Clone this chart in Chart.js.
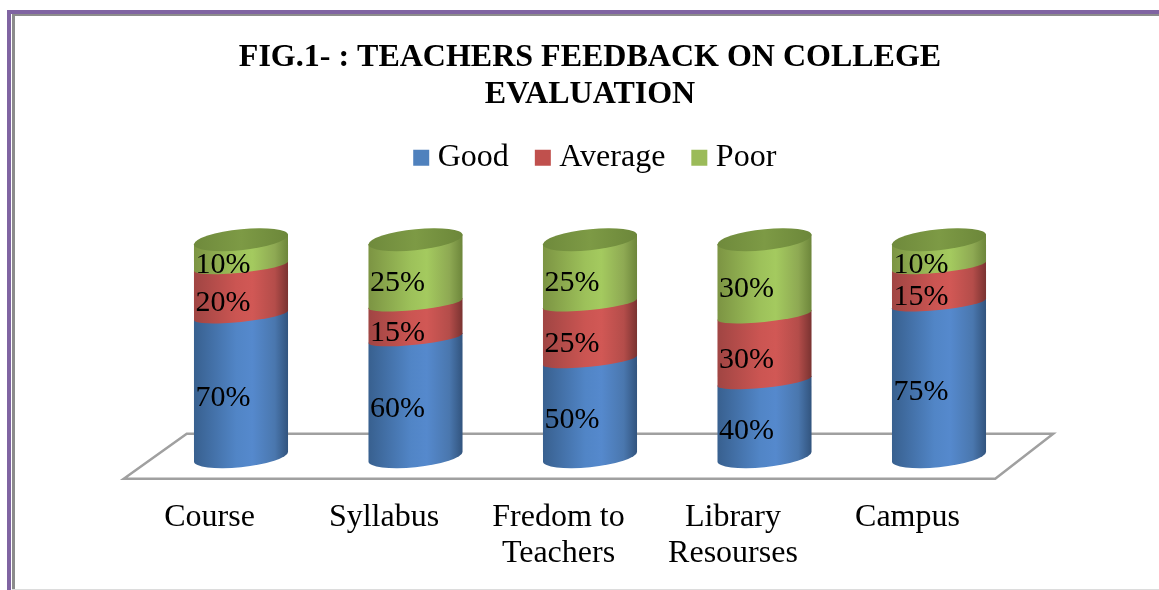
<!DOCTYPE html>
<html>
<head>
<meta charset="utf-8">
<title>Teachers feedback on college evaluation</title>
<script src="https://cdn.jsdelivr.net/npm/chart.js@4"></script>
<style>
    html, body { margin: 0; height: 100%; background: #fff; overflow: hidden; }
    canvas { position: absolute; left: 0; top: 0; }
    .frame { position: absolute; right: 0; bottom: 0; }
    #frame-outer { left: 7px; top: 10px; border-top: 4px solid #8064a2; border-left: 4px solid #8064a2; }
    #frame-inner { left: 12px; top: 14px; border-top: 2px solid #8c8c8c; border-left: 3px solid #8c8c8c; }
    #frame-bottom { position: absolute; left: 12px; right: 0; top: 589px; border-top: 1px solid #dcdcdc; }
</style>
</head>
<body>
<div class="frame" id="frame-outer"></div>
<div class="frame" id="frame-inner"></div>
<div id="frame-bottom"></div>
<!-- taller than the window: chart.js doubles the tick padding when it fits the x axis -->
<canvas id="feedbackChart" width="1178" height="615"></canvas>
<script>
// --- Data ---
const categories = ['Course', 'Syllabus', ['Fredom to', 'Teachers'], ['Library', 'Resourses'], 'Campus'];
const goodValues = [70, 60, 50, 40, 75];
const averageValues = [20, 15, 25, 30, 15];
const poorValues = [10, 25, 25, 30, 10];
const titleLines = ['FIG.1- : TEACHERS FEEDBACK ON COLLEGE', 'EVALUATION'];

// --- Look ---
const FONT = "'Liberation Serif', serif";
const RY_OUTER = 10.5;  // ellipse half height at the very top and bottom
const RY_INNER = 6.5;   // flatter where two segments meet
const SHEAR = -0.1;     // ellipses lean up to the right
const stops = [0, 0.45, 0.62, 0.86, 1];
const shades = {
    Good: ['#38608f', '#5185c6', '#5589cd', '#4a77ae', '#32547e'],
    Average: ['#a04543', '#cb5552', '#d15855', '#b44d4a', '#7a3331'],
    Poor: ['#7c9443', '#9dc15a', '#a4ca5f', '#8ea953', '#6d863b']
};
const topShades = ['#6f8a3c', '#7d9a45', '#6c873a'];

// 3D view: the far part of a column looks a bit taller than the near part
class PerspectiveScale extends Chart.LinearScale {
    static id = 'perspective';
    static defaults = Chart.LinearScale.defaults;
    getPixelForValue(value) {
        const d = (value - this.min) / (this.max - this.min);
        return this.getPixelForDecimal(d / (1.25 * (1 - d) + d));
    }
}
Chart.register(PerspectiveScale);

function sideGradient(ctx, rx, colors) {
    const g = ctx.createLinearGradient(-rx, 0, rx, 0);
    stops.forEach((s, i) => g.addColorStop(s, colors[i]));
    return g;
}

function drawSegment(ctx, bar, colors, isBottom, isTop) {
    const rx = bar.width / 2;
    ctx.save();
    ctx.transform(1, SHEAR, 0, 1, bar.x, 0);
    ctx.beginPath();
    ctx.moveTo(-rx, bar.y);
    ctx.lineTo(-rx, bar.base);
    ctx.ellipse(0, bar.base, rx, isBottom ? RY_OUTER : RY_INNER, 0, Math.PI, 0, true);
    ctx.lineTo(rx, bar.y);
    ctx.ellipse(0, bar.y, rx, RY_INNER, 0, 0, Math.PI, true);
    ctx.closePath();
    ctx.fillStyle = sideGradient(ctx, rx, colors);
    ctx.fill();
    if (isTop) {
        const g = ctx.createLinearGradient(-rx, 0, rx, 0);
        g.addColorStop(0, topShades[0]);
        g.addColorStop(0.5, topShades[1]);
        g.addColorStop(1, topShades[2]);
        ctx.beginPath();
        ctx.ellipse(0, bar.y, rx, RY_OUTER, 0, 0, Math.PI * 2);
        ctx.fillStyle = g;
        ctx.fill();
    }
    ctx.restore();
}

const cylinderPlugin = {
    id: 'cylinders',
    afterLayout(chart) {
        // legend sits higher and a bit right of where the layout box puts it
        chart.legend.left += 8.5;
        chart.legend.right += 8.5;
        chart.legend.top -= 56;
        chart.legend.bottom -= 56;
    },
    beforeDatasetsDraw(chart) {
        const ctx = chart.ctx;
        const area = chart.chartArea;

        // floor
        ctx.beginPath();
        ctx.moveTo(area.left - 30, area.bottom + 22);
        ctx.lineTo(area.left + 33, area.bottom - 23);
        ctx.lineTo(area.right + 27, area.bottom - 23);
        ctx.lineTo(area.right - 31, area.bottom + 22);
        ctx.closePath();
        ctx.strokeStyle = '#a0a0a0';
        ctx.lineWidth = 2.5;
        ctx.stroke();

        // columns, bottom segment first so each one covers the top of the one below
        const last = chart.data.datasets.length - 1;
        chart.data.datasets.forEach((ds, i) => {
            chart.getDatasetMeta(i).data.forEach(bar => {
                drawSegment(ctx, bar, shades[ds.label], i === 0, i === last);
            });
        });

        ctx.fillStyle = '#000';
        ctx.font = '30px ' + FONT;
        ctx.textAlign = 'center';
        ctx.textBaseline = 'middle';
        chart.data.datasets.forEach((ds, i) => {
            chart.getDatasetMeta(i).data.forEach((bar, j) => {
                ctx.fillText(ds.data[j] + '%', bar.x - 18, (bar.y + bar.base) / 2 + 12);
            });
        });
        return false;
    }
};

const ctx = document.getElementById('feedbackChart').getContext('2d');
new Chart(ctx, {
    type: 'bar',
    data: {
        labels: categories,
        datasets: [
            { label: 'Good', data: goodValues, backgroundColor: '#4f81bd' },
            { label: 'Average', data: averageValues, backgroundColor: '#c0504d' },
            { label: 'Poor', data: poorValues, backgroundColor: '#9bbb59' }
        ]
    },
    options: {
        responsive: false,
        animation: false,
        categoryPercentage: 1,
        barPercentage: 0.539,
        layout: { padding: { left: 153.75, right: 151.75, top: 0, bottom: 0 } },
        scales: {
            x: {
                stacked: true,
                grid: { display: false, drawTicks: false },
                border: { display: false },
                ticks: {
                    color: '#000',
                    font: { family: FONT, size: 32, lineHeight: 1.13 },
                    padding: 43,
                    labelOffset: -31.5,
                    maxRotation: 0,
                    autoSkip: false
                }
            },
            y: { type: 'perspective', stacked: true, min: 0, max: 100, display: false }
        },
        plugins: {
            tooltip: { enabled: false },
            title: {
                display: true,
                text: titleLines,
                color: '#000',
                font: { family: FONT, size: 32, weight: 'bold', lineHeight: 1.15 },
                padding: { top: 39.6, bottom: 51 }
            },
            legend: {
                position: 'top',
                labels: {
                    color: '#000',
                    font: { family: FONT, size: 32 },
                    padding: 33.5,
                    boxWidth: 1,
                    boxHeight: 1,
                    // thick same-colour outline gives a 16px swatch close to its text
                    generateLabels(chart) {
                        return Chart.defaults.plugins.legend.labels.generateLabels(chart).map(item => ({
                            ...item,
                            strokeStyle: item.fillStyle,
                            lineWidth: 15
                        }));
                    }
                }
            }
        }
    },
    plugins: [cylinderPlugin]
});
</script>
</body>
</html>
